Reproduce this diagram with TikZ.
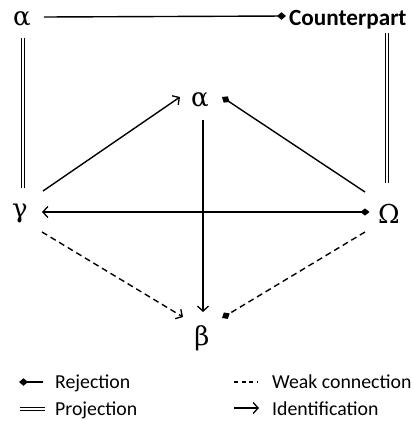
\documentclass[tikz,border=0pt]{standalone}
\usepackage{fontspec}
\setmainfont{Carlito}
\newfontfamily\grk{DejaVu Serif}
\usetikzlibrary{arrows.meta,calc}
\newcommand\gk[1]{{\grk\fontsize{26}{30}\selectfont #1}}
\begin{document}
\begin{tikzpicture}[x=1pt,y=-1pt,
  conn/.style={line width=1.4pt},
  ident/.style={conn,-{Straight Barb[length=5pt,width=11pt,line width=1.3pt]}},
  rej/.style={conn,-{Diamond[length=9pt,width=7.5pt]}},
  proj/.style={line width=1.2pt,double,double distance=2.2pt},
  weak/.style={conn,dash pattern=on 6pt off 4pt},
  greek/.style={anchor=base,inner sep=0pt},
  lbl/.style={anchor=base west,inner sep=0pt,font=\fontsize{19.8}{22}\selectfont}]
\useasboundingbox (0,0) rectangle (414,421);
% nodes
\node[greek] (aT) at (22,25) {\gk{α}};
\node[anchor=base west,inner sep=0pt,font=\bfseries\fontsize{23.2}{26}\selectfont] (cp) at (289,25) {Counterpart};
\node[greek] (am) at (200,106) {\gk{α}};
\node[greek] (g) at (20,217) {\gk{γ}};
\node[greek] (om) at (389,223) {\gk{Ω}};
\node[greek] (be) at (202,345) {\gk{β}};
% connectors
\draw[rej] ($(aT.base)+(22,-8)$) -- ($(cp.base west)+(-3,-9)$);
\draw[proj] ($(aT.base)+(1,13)$) -- ($(g.base)+(3,-29)$);
\draw[proj] ($(cp.base west)+(98,8)$) -- ($(om.base)+(-2,-40)$);
\draw[ident] ($(g.base)+(23,-26)$) -- ($(am.base)+(-20,-9)$);
\draw[rej] ($(om.base)+(-24,-31)$) -- ($(am.base)+(22,-9)$);
\draw[ident] ($(om.base)+(-24,-11)$) -- ($(g.base)+(22,-5)$);
\fill ($(om.base)+(-24,-11)$) +(0,-3.6) -- +(4.5,0) -- +(0,3.6) -- +(-4.5,0) -- cycle;
\draw[ident] ($(am.base)+(3,14)$) -- ($(be.base)+(1,-33)$);
\draw[ident,weak] ($(g.base)+(22,15)$) -- ($(be.base)+(-19,-28)$);
\draw[rej,weak] ($(om.base)+(-24,9)$) -- ($(be.base)+(20,-27)$);
% legend
\node[lbl] (lr) at (55,388) {Rejection};
\node[lbl] (lp) at (55,415) {Projection};
\node[lbl] (lw) at (272,388) {Weak connection};
\node[lbl] (li) at (272,415) {Identification};
\coordinate (r1) at (43,382);
\coordinate (r2) at (19,382);
\draw[rej] (r1) -- (r2);
\coordinate (p1) at (20,409);
\coordinate (p2) at (45,409);
\draw[proj] (p1) -- (p2);
\coordinate (w1) at (234,382);
\coordinate (w2) at (258,382);
\draw[conn,line width=1.1pt,dash pattern=on 4pt off 3.5pt] (w1) -- (w2);
\coordinate (i1) at (234,408);
\coordinate (i2) at (259,408);
\draw[ident] (i1) -- (i2);
\end{tikzpicture}
\end{document}
